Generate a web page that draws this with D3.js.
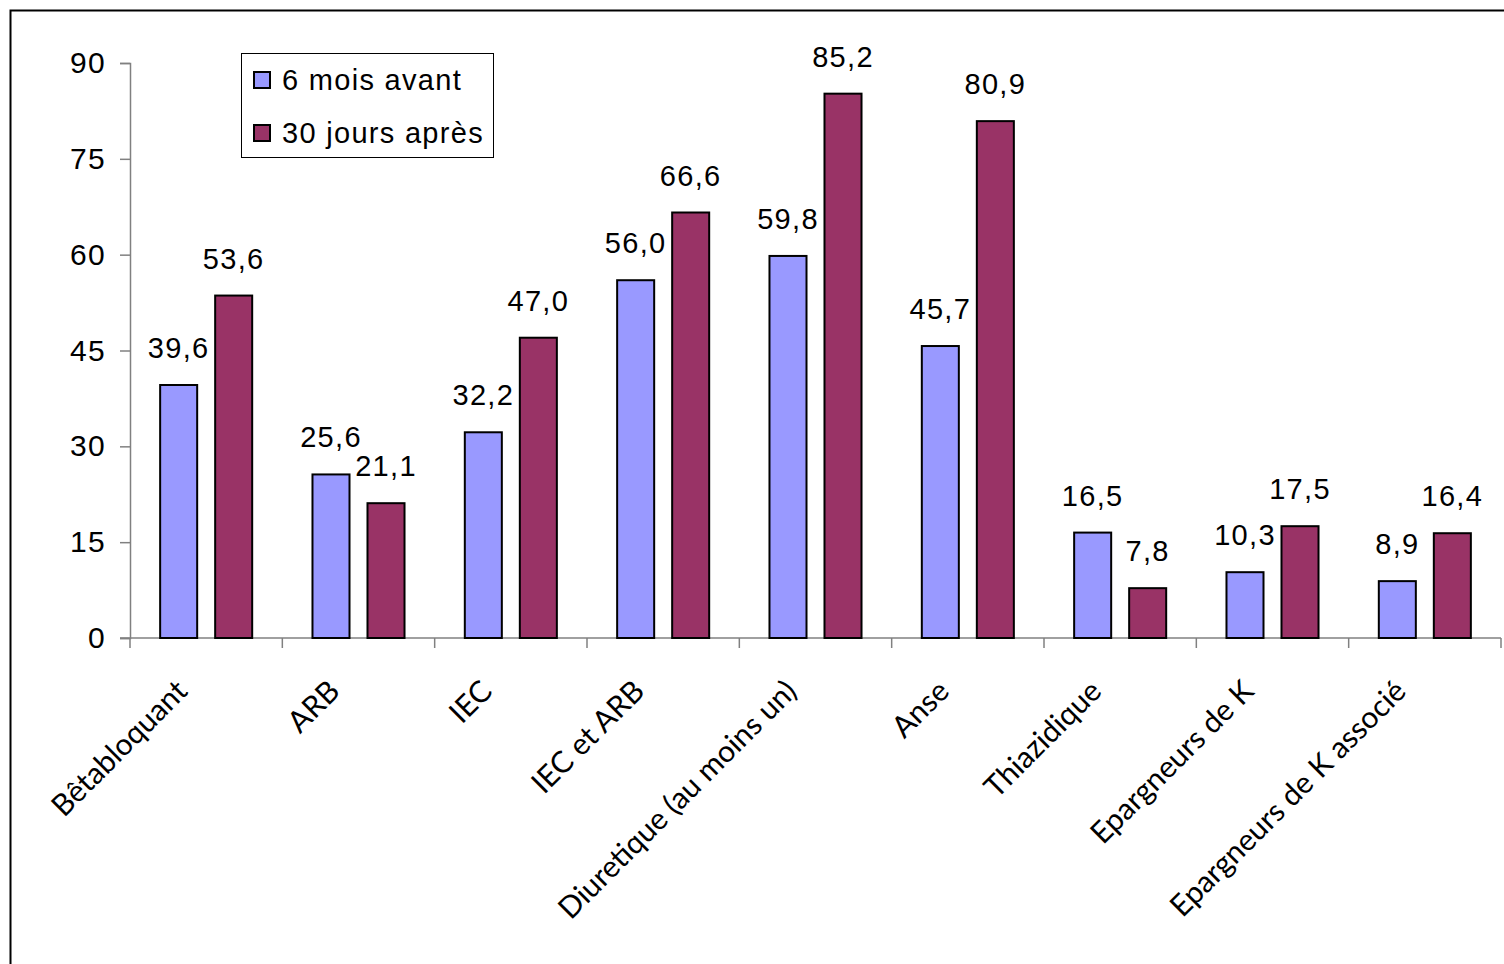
<!DOCTYPE html>
<html>
<head>
<meta charset="utf-8">
<script src="https://cdn.jsdelivr.net/npm/d3@7"></script>
<style>
  body { margin: 0; background: #fff; }
  svg { display: block; }
</style>
</head>
<body>
<div id="viz"></div>
<script>
var width = 1504,
    height = 964;

// data
var categories = ["Bêtabloquant", "ARB", "IEC", "IEC et ARB", "Diuretique (au moins un)",
                  "Anse", "Thiazidique", "Epargneurs de K", "Epargneurs de K associé"];
var seriesNames = ["6 mois avant", "30 jours après"];
var avant = [39.6, 25.6, 32.2, 56.0, 59.8, 45.7, 16.5, 10.3, 8.9];
var apres = [53.6, 21.1, 47.0, 66.6, 85.2, 80.9, 7.8, 17.5, 16.4];
var yTicks = [0, 15, 30, 45, 60, 75, 90];

var colors = ["#9999FF", "#993366"];
var numFont = "Liberation Sans, Arial, sans-serif";

var svg = d3.select("#viz")
    .append("svg")
    .attr("width", width)
    .attr("height", height);

// outer frame
svg.append("rect")
    .attr("x", 10.5).attr("y", 10.5)
    .attr("width", width + 20).attr("height", height + 20)
    .attr("fill", "none")
    .attr("stroke", "#000")
    .attr("stroke-width", 2);

var plotLeft = 130, plotRight = 1501, plotTop = 63, plotBottom = 638;

var x = d3.scaleBand()
    .domain(categories)
    .range([plotLeft, plotRight])
    .padding(0);

var xs = d3.scaleBand()
    .domain(seriesNames)
    .range([0, x.bandwidth()])
    .paddingInner(0.327)
    .paddingOuter(0.548);

var y = d3.scaleLinear()
    .domain([0, 90])
    .range([plotBottom, plotTop]);

var fmt = function(v) { return d3.format(".1f")(v).replace(".", ","); };

// y axis
var yAxis = svg.append("g")
    .attr("transform", "translate(" + plotLeft + ",0)")
    .call(d3.axisLeft(y).tickValues(yTicks).tickSize(10).tickPadding(14).tickFormat(d3.format("d")));
yAxis.select(".domain").attr("stroke", "#808080").attr("stroke-width", 1.5);
yAxis.selectAll(".tick line").attr("stroke", "#808080").attr("stroke-width", 1.5);
yAxis.selectAll("text")
    .attr("font-family", numFont)
    .attr("font-size", 30)
    .attr("letter-spacing", 1.3)
    .attr("fill", "#000");

// x axis line + ticks at group boundaries
svg.append("line")
    .attr("x1", plotLeft - 10).attr("x2", plotRight)
    .attr("y1", plotBottom).attr("y2", plotBottom)
    .attr("stroke", "#808080").attr("stroke-width", 1.5);

var bounds = categories.map(function(c) { return x(c); }).concat([plotRight]);
svg.selectAll(".xtick")
    .data(bounds)
    .enter().append("line")
      .attr("class", "xtick")
      .attr("x1", function(d) { return d; })
      .attr("x2", function(d) { return d; })
      .attr("y1", plotBottom)
      .attr("y2", plotBottom + 10)
      .attr("stroke", "#808080").attr("stroke-width", 1.5);

// bars
var rows = categories.map(function(c, i) {
  return { cat: c, values: [ { s: seriesNames[0], v: avant[i], k: 0 }, { s: seriesNames[1], v: apres[i], k: 1 } ] };
});

var groups = svg.append("g").selectAll("g")
    .data(rows)
    .enter().append("g")
      .attr("transform", function(d) { return "translate(" + x(d.cat) + ",0)"; });

groups.selectAll("rect")
    .data(function(d) { return d.values; })
    .enter().append("rect")
      .attr("x", function(d) { return xs(d.s); })
      .attr("y", function(d) { return y(d.v); })
      .attr("width", xs.bandwidth())
      .attr("height", function(d) { return plotBottom - y(d.v); })
      .attr("fill", function(d) { return colors[d.k]; })
      .attr("stroke", "#000")
      .attr("stroke-width", 2);

groups.selectAll("text")
    .data(function(d) { return d.values; })
    .enter().append("text")
      .attr("x", function(d) { return xs(d.s) + xs.bandwidth() / 2; })
      .attr("y", function(d) { return y(d.v) - 27; })
      .attr("text-anchor", "middle")
      .attr("font-family", numFont)
      .attr("font-size", 29)
      .attr("letter-spacing", 1.3)
      .text(function(d) { return fmt(d.v); });

// category labels
svg.selectAll(".catlabel")
    .data(categories)
    .enter().append("text")
      .attr("class", "catlabel")
      .attr("text-anchor", "end")
      .attr("font-family", "Lato, sans-serif")
      .attr("font-size", 30)
      .attr("transform", function(d) {
        return "translate(" + (x(d) + x.bandwidth() / 2 - 17) + "," + (plotBottom + 55) + ") rotate(-45)";
      })
      .text(function(d) { return d; });

// legend
var legend = svg.append("g");
legend.append("rect")
    .attr("x", 241.5).attr("y", 53.5)
    .attr("width", 252).attr("height", 104)
    .attr("fill", "#fff").attr("stroke", "#000").attr("stroke-width", 1);

var items = legend.selectAll(".item")
    .data(seriesNames)
    .enter().append("g")
      .attr("class", "item")
      .attr("transform", function(d, i) { return "translate(254," + (72 + i * 53) + ")"; });

items.append("rect")
    .attr("width", 16).attr("height", 16)
    .attr("fill", function(d, i) { return colors[i]; })
    .attr("stroke", "#000").attr("stroke-width", 2);

items.append("text")
    .attr("x", 28).attr("y", 18)
    .attr("font-family", numFont)
    .attr("font-size", 29)
    .attr("letter-spacing", 1.3)
    .text(function(d) { return d; });
</script>
</body>
</html>
